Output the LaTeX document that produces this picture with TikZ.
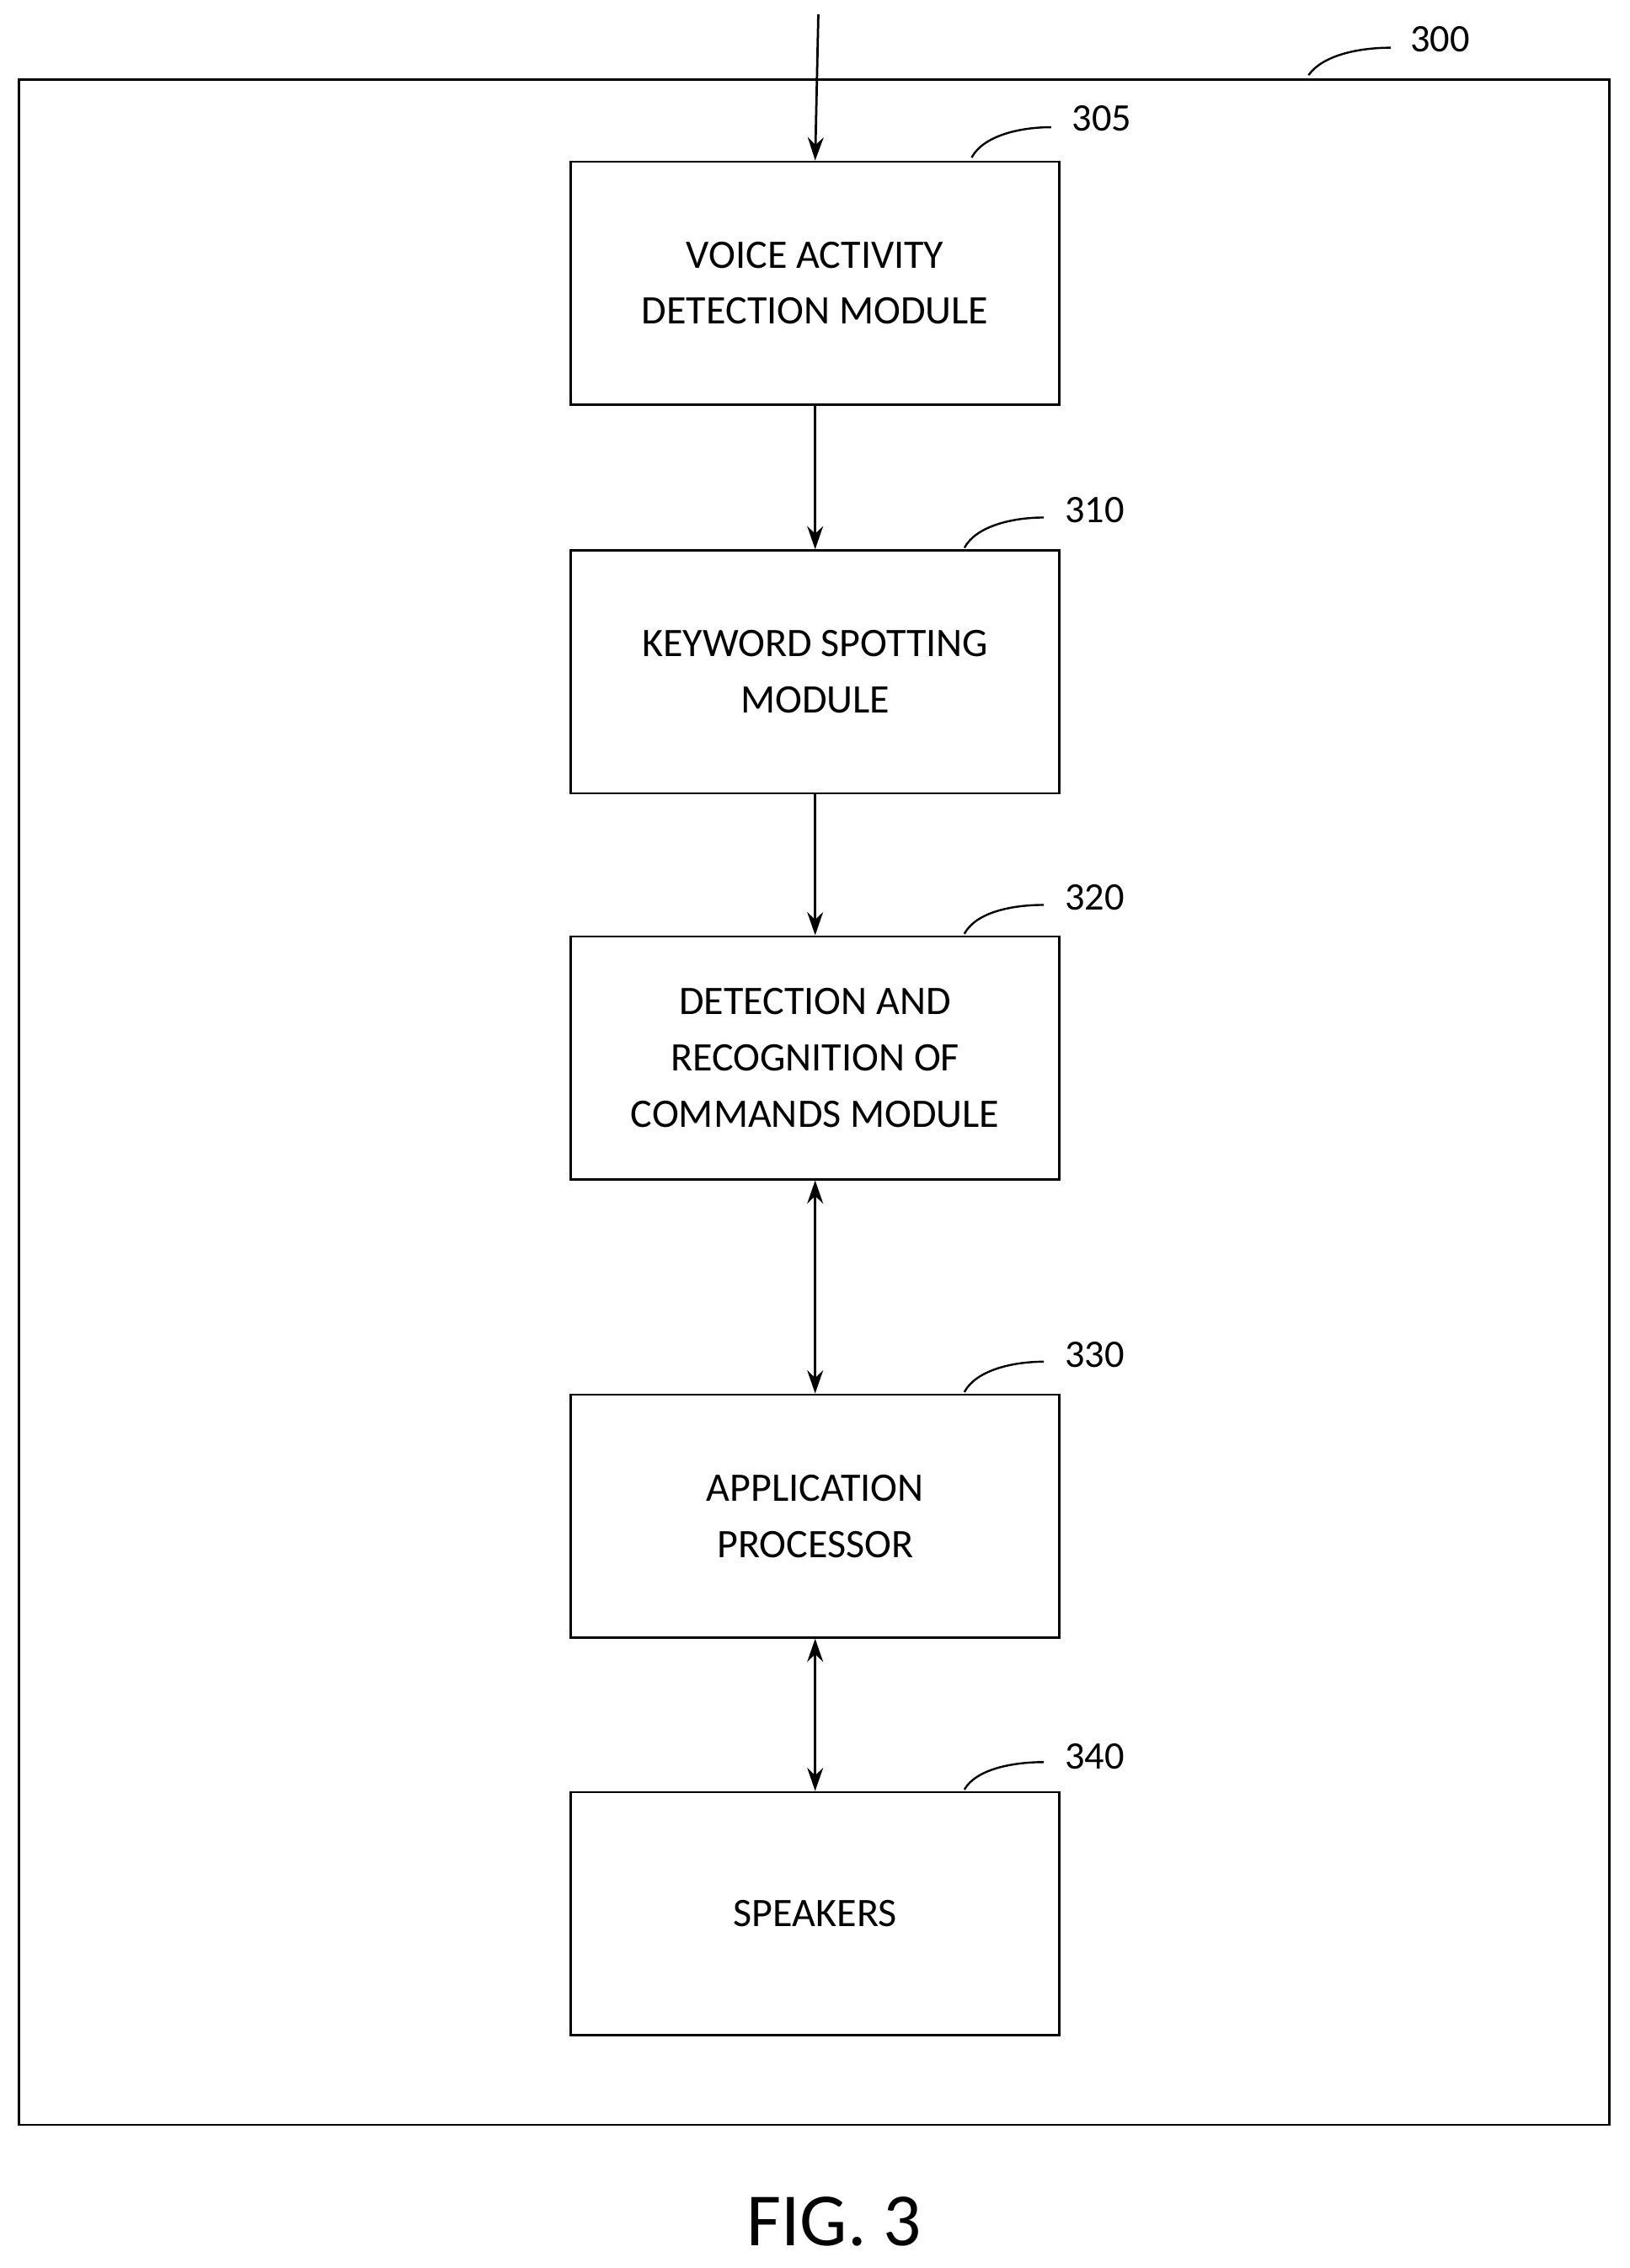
\documentclass[tikz,border=0pt]{standalone}
\usepackage{fontspec}
\setmainfont{Carlito}
\usetikzlibrary{arrows.meta}
\begin{document}
\begin{tikzpicture}[x=1pt,y=-1pt,
  box/.style={draw,line width=1.6pt,minimum width=338pt,minimum height=168pt,align=center,font=\fontsize{28}{39}\selectfont,anchor=north west,inner sep=0pt},
  lbl/.style={font=\fontsize{27}{30}\selectfont},
  arr/.style={line width=1.6pt,-{Stealth[length=16pt,width=11pt]}},
  darr/.style={line width=1.6pt,{Stealth[length=16pt,width=11pt]}-{Stealth[length=16pt,width=11pt]}},
  lead/.style={line width=1.4pt}]
\useasboundingbox (0,0) rectangle (1127,1569);
\draw[line width=1.6pt] (13,55) rectangle (1113,1470);
\node[box] (b1) at (394,111) {VOICE ACTIVITY\\DETECTION MODULE};
\node[box] (b2) at (394,380) {KEYWORD SPOTTING\\MODULE};
\node[box] (b3) at (394,647) {DETECTION AND\\RECOGNITION OF\\COMMANDS MODULE};
\node[box] (b4) at (394,964) {APPLICATION\\PROCESSOR};
\node[box] (b5) at (394,1239) {SPEAKERS};
\coordinate (in) at (566,10);
\draw[arr] (in) -- (b1.north);
\draw[arr] (b1) -- (b2);
\draw[arr] (b2) -- (b3);
\draw[darr] (b3) -- (b4);
\draw[darr] (b4) -- (b5);
\node[lbl] (l300) at (996,27) {300};
\draw[lead] (905,52) .. controls (915,38) and (940,33) .. (962,33);
\node[lbl] (l305) at (762,82) {305};
\draw[lead] (672,109) .. controls (680,94) and (705,88) .. (727,88);
\node[lbl] (l310) at (757,353) {310};
\draw[lead] (667,379) .. controls (675,364) and (700,358) .. (722,358);
\node[lbl] (l320) at (757,621) {320};
\draw[lead] (667,646) .. controls (675,631) and (700,626) .. (722,626);
\node[lbl] (l330) at (757,937) {330};
\draw[lead] (667,963) .. controls (675,948) and (700,942) .. (722,942);
\node[lbl] (l340) at (757,1215) {340};
\draw[lead] (667,1238) .. controls (675,1224) and (700,1219) .. (722,1219);
\node[font=\fontsize{52}{56}\selectfont] (fig) at (577,1537) {FIG. 3};
\end{tikzpicture}
\end{document}
